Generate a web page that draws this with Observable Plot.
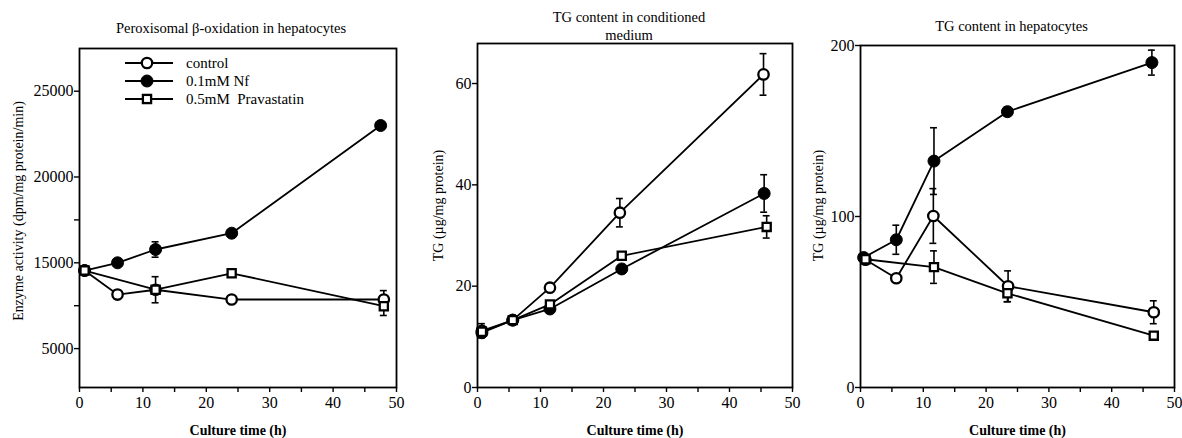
<!DOCTYPE html>
<html><head><meta charset="utf-8">
<script src="https://cdn.jsdelivr.net/npm/d3@7"></script>
<script src="https://cdn.jsdelivr.net/npm/@observablehq/plot@0.6"></script>
<style>
body{margin:0;background:#fff;}
#wrap{position:relative;width:1182px;height:438px;overflow:hidden;background:#fff;}
#wrap svg{position:absolute;top:0;}
#wrap svg g[aria-label$="tick label"], #wrap svg g[aria-label$="tick label"] text{font-size:16px !important;}
</style></head><body><div id="wrap"></div>
<script>
const seriesNames = ["control", "0.1mM Nf", "0.5mM  Pravastatin"];
const xTicks = [0, 10, 20, 30, 40, 50];
const xMinorTicks = [5, 15, 25, 35, 45];
const xLabel = "Culture time (h)";

// Panel A: Peroxisomal beta-oxidation
const titleA = "Peroxisomal β-oxidation in hepatocytes";
const yLabelA = "Enzyme activity (dpm/mg protein/min)";
const yTicksA = [10000, 15000, 20000, 25000];
const yTickLabelsA = ["5000", "15000", "20000", "25000"];
const yMinorA = [12500, 17500];
const aControlT = [0.8, 6, 12, 24, 48];
const aControlV = [14550, 13150, 13430, 12860, 12860];
const aControlE = [0, 250, 0, 0, 520];
const aNfT = [0.8, 6, 12, 24, 47.5];
const aNfV = [14550, 15000, 15775, 16725, 23000];
const aNfE = [0, 0, 450, 0, 0];
const aPravT = [0.8, 12, 24, 48];
const aPravV = [14550, 13430, 14390, 12470];
const aPravE = [0, 760, 0, 540];

// Panel B: TG content in conditioned medium
const titleB = "TG content in conditioned\nmedium";
const yLabelB = "TG (µg/mg protein)";
const yTicksB = [0, 20, 40, 60];
const bControlT = [0.7, 5.6, 11.5, 22.6, 45.4];
const bControlV = [11.2, 13.3, 19.7, 34.5, 61.8];
const bControlE = [1.4, 0, 0, 2.8, 4.1];
const bNfT = [0.7, 5.6, 11.5, 22.9, 45.5];
const bNfV = [10.8, 13.3, 15.5, 23.4, 38.3];
const bNfE = [0, 0, 0, 0, 3.7];
const bPravT = [0.7, 5.6, 11.5, 22.9, 45.9];
const bPravV = [11.0, 13.3, 16.4, 26.0, 31.7];
const bPravE = [0, 0, 0, 0, 2.2];

// Panel C: TG content in hepatocytes
const titleC = "TG content in hepatocytes";
const yLabelC = "TG (µg/mg protein)";
const yTicksC = [0, 100, 200];
const cControlT = [0.8, 5.7, 11.6, 23.5, 46.7];
const cControlV = [74.7, 63.9, 100.3, 59.2, 44];
const cControlE = [0, 0, 16, 9, 6.7];
const cNfT = [0.5, 5.7, 11.7, 23.4, 46.4];
const cNfV = [76, 86.4, 132.4, 161.3, 190];
const cNfE = [0, 8.5, 19.5, 2.5, 7.3];
const cPravT = [0.8, 11.7, 23.4, 46.7];
const cPravV = [75, 70.4, 55.1, 30.3];
const cPravE = [0, 9.5, 5, 2];

function rows(series, T, V, E) {
  return T.map((t, i) => ({series, t, v: V[i], e: E[i]}));
}

const FONT = "Liberation Serif, Times New Roman, serif";

function panel(o) {
  const data = [
    ...rows(seriesNames[0], ...o.control),
    ...rows(seriesNames[1], ...o.nf),
    ...rows(seriesNames[2], ...o.prav)
  ];
  const err = data.filter(d => d.e > 0);
  const marks = [
    Plot.axisY({ticks: o.yTicks, tickFormat: d => o.yTickLabels[o.yTicks.indexOf(d)], tickSize: 5, tickPadding: 1, label: null, strokeWidth: 1.4}),
    o.yMinor ? Plot.axisY({ticks: o.yMinor, tickFormat: () => "", tickSize: 5, label: null, strokeWidth: 1.4}) : null,
    Plot.axisX({ticks: xTicks, tickSize: 5, tickPadding: 4, label: null, strokeWidth: 1.4}),
    Plot.axisX({ticks: xMinorTicks, tickSize: 5, tickFormat: () => "", label: null, strokeWidth: 1.4}),
    Plot.frame({stroke: "black", strokeWidth: 1.8}),
    Plot.line(data, {x: "t", y: "v", z: "series", stroke: "black", strokeWidth: 1.8}),
    Plot.ruleX(err, {x: "t", y1: d => d.v - d.e, y2: d => d.v + d.e, stroke: "black", strokeWidth: 1.6}),
    Plot.ruleY(err, {y: d => d.v + d.e, x1: d => d.t - 0.55, x2: d => d.t + 0.55, stroke: "black", strokeWidth: 1.6}),
    Plot.ruleY(err, {y: d => d.v - d.e, x1: d => d.t - 0.55, x2: d => d.t + 0.55, stroke: "black", strokeWidth: 1.6}),
    Plot.dot(data.filter(d => d.series === seriesNames[1]), {x: "t", y: "v", r: 6, fill: "black", stroke: "black", strokeWidth: 1}),
    Plot.dot(data.filter(d => d.series === seriesNames[0]), {x: "t", y: "v", r: 5.2, fill: "white", stroke: "black", strokeWidth: 2.3}),
    Plot.dot(data.filter(d => d.series === seriesNames[2]), {x: "t", y: "v", r: 4.6, symbol: "square", fill: "white", stroke: "black", strokeWidth: 2.3}),
    Plot.text([o.title], {text: d => d, frameAnchor: "top", textAnchor: "middle", lineAnchor: "middle", dx: o.titleDx, dy: o.titleDy, fontSize: 14.5, lineHeight: 1.2}),
    Plot.text([o.yLabel], {text: d => d, frameAnchor: "left", textAnchor: "middle", rotate: -90, lineAnchor: "middle", dx: o.yLabelDx, dy: o.yLabelDy, fontSize: 14}),
    Plot.text([xLabel], {text: d => d, frameAnchor: "bottom", textAnchor: "middle", lineAnchor: "middle", dy: 43, fontSize: 14, fontWeight: "bold"})
  ].filter(Boolean);
  const svg = Plot.plot({
    width: o.width, height: o.height,
    marginLeft: o.marginLeft, marginRight: o.marginRight, marginTop: o.marginTop, marginBottom: o.marginBottom,
    style: {fontFamily: FONT, fontSize: "15.5px", color: "black", background: "none", overflow: "visible"},
    x: {domain: [0, 50]},
    y: {domain: o.yDomain},
    marks
  });
  svg.style.left = o.left + "px";
  return svg;
}

const wrap = document.getElementById("wrap");

const svgA = panel({
  left: 0, width: 400, height: 438, marginLeft: 79, marginRight: 4, marginTop: 48, marginBottom: 51,
  yDomain: [7733, 27488], yTicks: yTicksA, yTickLabels: yTickLabelsA, yMinor: yMinorA,
  control: [aControlT, aControlV, aControlE], nf: [aNfT, aNfV, aNfE], prav: [aPravT, aPravV, aPravE],
  title: titleA, titleDx: -7, titleDy: -21, yLabel: yLabelA, yLabelDx: -61, yLabelDy: -7
});
const svgB = panel({
  left: 400, width: 400, height: 438, marginLeft: 77, marginRight: 8, marginTop: 43, marginBottom: 51,
  yDomain: [0, 67.9], yTicks: yTicksB, yTickLabels: yTicksB.map(String),
  control: [bControlT, bControlV, bControlE], nf: [bNfT, bNfV, bNfE], prav: [bPravT, bPravV, bPravE],
  title: titleB, titleDx: -6, titleDy: -18, yLabel: yLabelB, yLabelDx: -39, yLabelDy: -10
});
const svgC = panel({
  left: 800, width: 382, height: 438, marginLeft: 60, marginRight: 8, marginTop: 45, marginBottom: 51,
  yDomain: [0, 200], yTicks: yTicksC, yTickLabels: yTicksC.map(String),
  control: [cControlT, cControlV, cControlE], nf: [cNfT, cNfV, cNfE], prav: [cPravT, cPravV, cPravE],
  title: titleC, titleDx: -6, titleDy: -20, yLabel: yLabelC, yLabelDx: -42, yLabelDy: -11
});
wrap.append(svgA, svgB, svgC);

// Legend inside panel A
const legendStyles = [
  {fill: "white", shape: "circle"},
  {fill: "black", shape: "circle"},
  {fill: "white", shape: "square"}
];
const lg = d3.select(svgA).append("g").attr("font-family", FONT).attr("font-size", 15).attr("text-anchor", "start");
seriesNames.forEach((name, i) => {
  const y = 63 + i * 18;
  const g = lg.append("g").attr("transform", `translate(0,${y})`);
  g.append("line").attr("x1", 125).attr("x2", 173).attr("y1", 0).attr("y2", 0).attr("stroke", "black").attr("stroke-width", 1.8);
  const s = legendStyles[i];
  if (s.shape === "circle") {
    g.append("circle").attr("cx", 147).attr("cy", 0).attr("r", s.fill === "black" ? 6 : 5.2)
      .attr("fill", s.fill).attr("stroke", "black").attr("stroke-width", s.fill === "black" ? 1 : 2.3);
  } else {
    g.append("rect").attr("x", 147 - 4.1).attr("y", -4.1).attr("width", 8.2).attr("height", 8.2)
      .attr("fill", "white").attr("stroke", "black").attr("stroke-width", 2.3);
  }
  g.append("text").attr("x", 186).attr("y", 0).attr("dy", "0.35em").attr("text-anchor", "start").style("white-space", "pre").text(name);
});
</script>
</body></html>
